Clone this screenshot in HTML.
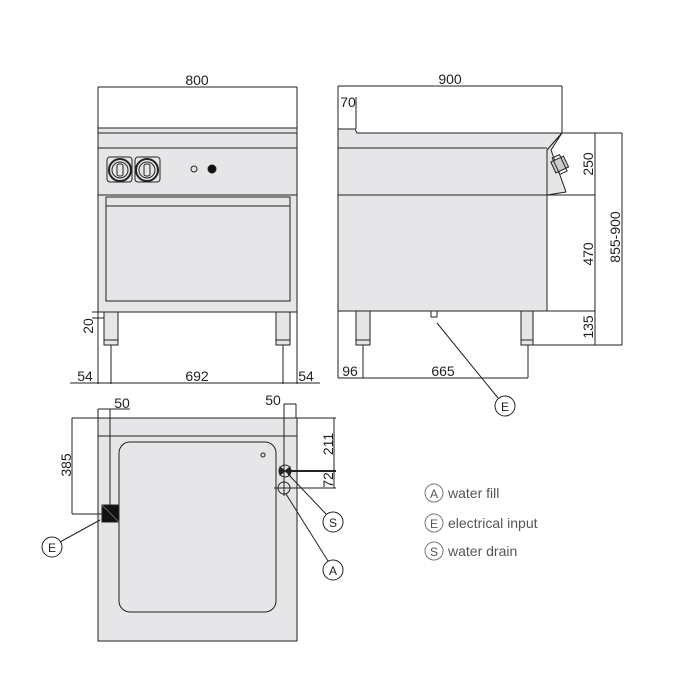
<!DOCTYPE html>
<html><head><meta charset="utf-8"><style>
html,body{margin:0;padding:0;background:#fff}
svg{display:block}
text{font-family:"Liberation Sans",sans-serif;fill:#222}
</style></head><body>
<svg width="700" height="700" viewBox="0 0 700 700" xmlns="http://www.w3.org/2000/svg">
<g stroke="#222" stroke-width="1" fill="none">
<!-- FRONT VIEW -->
<rect x="98" y="128" width="199" height="67" fill="#e6e6e8"/>
<line x1="98" y1="133" x2="297" y2="133"/>
<line x1="98" y1="148" x2="297" y2="148"/>
<rect x="98" y="195" width="199" height="117" fill="#e6e6e8"/>
<rect x="106" y="197" width="184" height="104" fill="#e6e6e8"/>
<line x1="106" y1="206" x2="290" y2="206"/>
<rect x="104" y="312" width="14" height="33" fill="#e6e6e8"/>
<rect x="276" y="312" width="14" height="33" fill="#e6e6e8"/>
<line x1="104" y1="340" x2="118" y2="340"/><line x1="276" y1="340" x2="290" y2="340"/>
<rect x="107" y="157" width="25" height="25" rx="3" fill="#e6e6e8"/>
<rect x="135" y="157" width="25" height="25" rx="3" fill="#e6e6e8"/>
<circle cx="120" cy="170" r="11" stroke-width="2"/><circle cx="120" cy="170" r="8"/>
<circle cx="147" cy="170" r="11" stroke-width="2"/><circle cx="147" cy="170" r="8"/>
<rect x="117" y="164" width="6" height="12" rx="2"/><rect x="144" y="164" width="6" height="12" rx="2"/>
<circle cx="194" cy="169" r="3"/>
<circle cx="212" cy="169" r="4" fill="#111"/>
<!-- front dims -->
<line x1="98" y1="87" x2="297" y2="87"/>
<line x1="98" y1="87" x2="98" y2="128"/><line x1="297" y1="87" x2="297" y2="128"/>
<line x1="98" y1="312" x2="98" y2="384"/><line x1="297" y1="312" x2="297" y2="384"/>
<line x1="111" y1="345" x2="111" y2="384"/><line x1="283" y1="345" x2="283" y2="384"/>
<line x1="70" y1="383" x2="320" y2="383"/>
<line x1="92" y1="312" x2="104" y2="312"/><line x1="92" y1="318" x2="104" y2="318"/>
<!-- SIDE VIEW -->
<polygon points="338,129 355,129 357,133 562,133 547,150 547,311 338,311" fill="#e6e6e8"/>
<line x1="338" y1="148" x2="547" y2="148"/>
<line x1="338" y1="195" x2="547" y2="195"/>
<polygon points="562,133 547,150 547,195 566,192 551,150" fill="#e6e6e8"/>
<g transform="rotate(-25 561 165)"><rect x="553" y="158" width="14" height="12" fill="#ccc"/><rect x="556" y="155" width="8" height="18"/></g>
<rect x="356" y="311" width="14" height="34" fill="#e6e6e8"/>
<rect x="521" y="311" width="12" height="34" fill="#e6e6e8"/>
<line x1="356" y1="340" x2="370" y2="340"/><line x1="521" y1="340" x2="533" y2="340"/>
<rect x="431" y="311" width="6" height="6"/>
<!-- side dims -->
<line x1="338" y1="86" x2="562" y2="86"/>
<line x1="338" y1="86" x2="338" y2="378"/>
<line x1="562" y1="86" x2="562" y2="133"/>
<line x1="356" y1="97" x2="356" y2="129"/>
<line x1="562" y1="133" x2="622" y2="133"/>
<line x1="547" y1="195" x2="595" y2="195"/>
<line x1="547" y1="311" x2="595" y2="311"/>
<line x1="533" y1="345" x2="622" y2="345"/>
<line x1="595" y1="133" x2="595" y2="345"/>
<line x1="622" y1="133" x2="622" y2="345"/>
<line x1="338" y1="378" x2="528" y2="378"/>
<line x1="363" y1="345" x2="363" y2="378"/><line x1="528" y1="345" x2="528" y2="378"/>
<line x1="437" y1="323" x2="498" y2="398"/>
<circle cx="505" cy="406" r="10" fill="#fff"/>
<!-- PLAN VIEW -->
<rect x="98" y="418" width="199" height="223" fill="#e6e6e8"/>
<line x1="98" y1="436" x2="297" y2="436"/>
<rect x="119" y="442" width="157" height="170" rx="11" fill="#e6e6e8"/>
<circle cx="263" cy="455" r="2"/>
<circle cx="285" cy="471" r="6"/>
<path d="M280 467 L285 471 L280 475 Z M290 467 L285 471 L290 475 Z" fill="#222"/>
<circle cx="284" cy="488" r="6"/>
<rect x="102" y="505" width="17" height="17" fill="#111"/>
<line x1="102" y1="505" x2="119" y2="522" stroke="#666"/>
<!-- plan dims -->
<line x1="98" y1="409" x2="110" y2="409"/>
<line x1="98" y1="409" x2="98" y2="418"/>
<line x1="110" y1="409" x2="110" y2="505"/>
<line x1="110" y1="409" x2="130" y2="409"/>
<line x1="72" y1="418" x2="98" y2="418"/>
<line x1="72" y1="418" x2="72" y2="514"/>
<line x1="72" y1="514" x2="102" y2="514"/>
<line x1="284" y1="404" x2="296" y2="404"/>
<line x1="284" y1="404" x2="284" y2="496"/>
<line x1="296" y1="404" x2="296" y2="418"/>
<line x1="297" y1="418" x2="336" y2="418"/>
<line x1="290" y1="471" x2="336" y2="471" stroke-width="2"/>
<line x1="274" y1="488" x2="336" y2="488"/>
<line x1="334" y1="418" x2="334" y2="488"/>
<line x1="288" y1="474" x2="326" y2="514"/>
<line x1="286" y1="494" x2="328" y2="561"/>
<line x1="100" y1="520" x2="60" y2="542"/>
<circle cx="333" cy="522" r="10" fill="#fff"/>
<circle cx="333" cy="570" r="10" fill="#fff"/>
<circle cx="52" cy="547" r="10" fill="#fff"/>
<!-- legend -->
<g stroke="#777"><circle cx="434" cy="493" r="9"/><circle cx="434" cy="523" r="9"/><circle cx="434" cy="551" r="9"/></g>
</g>
<g font-size="14" text-anchor="middle">
<text x="197" y="85">800</text>
<text x="450" y="84">900</text>
<text x="348" y="107">70</text>
<text x="85" y="381">54</text>
<text x="197" y="381">692</text>
<text x="306" y="381">54</text>
<text x="350" y="376">96</text>
<text x="443" y="376">665</text>
<text x="122" y="408">50</text>
<text x="273" y="405">50</text>
<text transform="translate(93 326) rotate(-90)">20</text>
<text transform="translate(593 164) rotate(-90)">250</text>
<text transform="translate(593 254) rotate(-90)">470</text>
<text transform="translate(593 327) rotate(-90)">135</text>
<text transform="translate(620 237) rotate(-90)">855-900</text>
<text transform="translate(71 465) rotate(-90)">385</text>
<text transform="translate(333 444) rotate(-90)">211</text>
<text transform="translate(333 480) rotate(-90)">72</text>
<text x="505" y="411" font-size="12">E</text>
<text x="333" y="527" font-size="12">S</text>
<text x="333" y="575" font-size="12">A</text>
<text x="52" y="552" font-size="12">E</text>
<text x="434" y="498" font-size="12" style="fill:#555">A</text>
<text x="434" y="528" font-size="12" style="fill:#555">E</text>
<text x="434" y="556" font-size="12" style="fill:#555">S</text>
</g>
<g font-size="14" style="fill:#555">
<text x="448" y="498" style="fill:#555">water fill</text>
<text x="448" y="528" style="fill:#555">electrical input</text>
<text x="448" y="556" style="fill:#555">water drain</text>
</g>
</svg>
</body></html>
